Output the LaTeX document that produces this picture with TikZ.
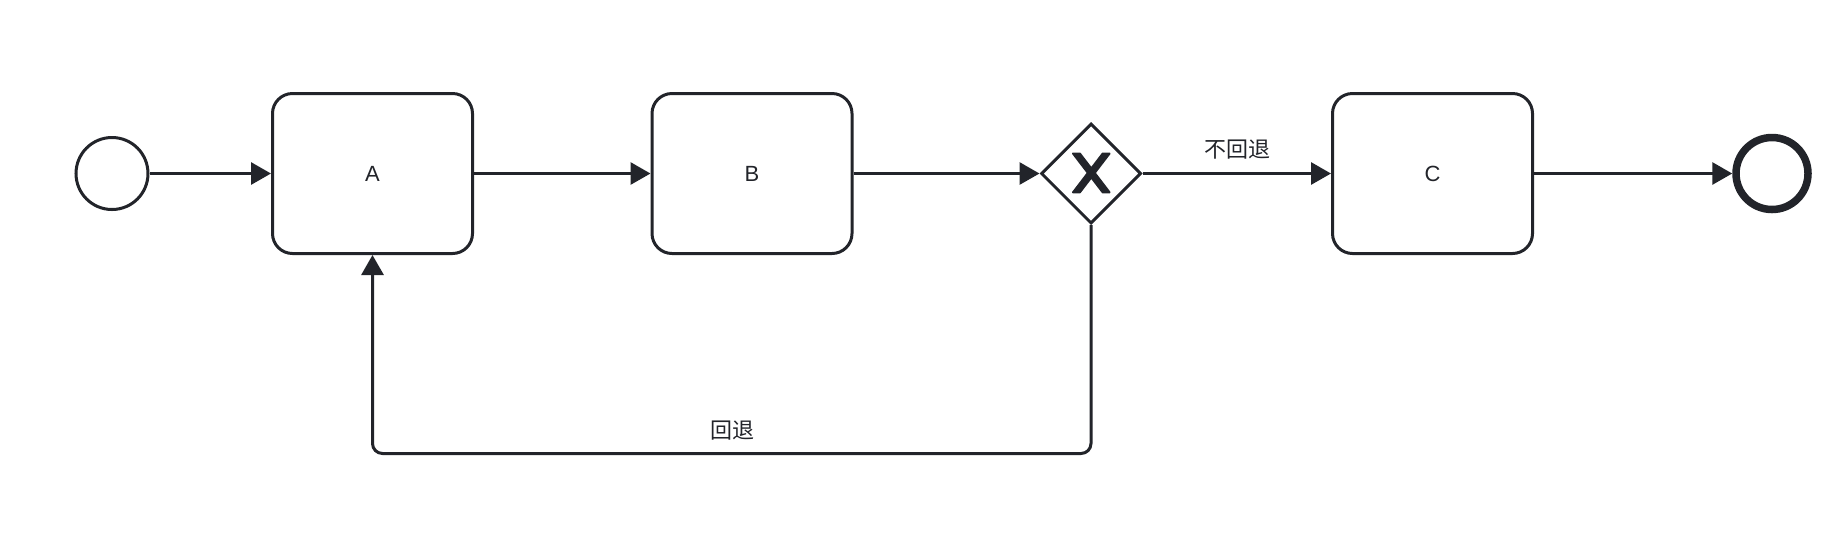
\documentclass[tikz,border=0pt]{standalone}
\usepackage{fontspec}
\setmainfont{Liberation Sans}
\newfontfamily\cjk{Noto Sans CJK SC}
\usetikzlibrary{arrows.meta,shapes.geometric}
\definecolor{ink}{RGB}{34,36,42}
\tikzset{
  x=0.5pt,y=-0.5pt,
  task/.style={draw=ink,line width=1.5pt,rounded corners=10pt,minimum width=100pt,minimum height=80pt,inner sep=0pt,font=\fontsize{11pt}{13pt}\selectfont,text=ink},
  startev/.style={circle,draw=ink,line width=1.5pt,minimum size=36pt,inner sep=0pt},
  endev/.style={circle,draw=ink,line width=3.75pt,minimum size=36pt,inner sep=0pt},
  gate/.style={diamond,draw=ink,line width=1.5pt,minimum width=50pt,minimum height=50pt,inner sep=0pt},
  flow/.style={draw=ink,line width=1.5pt,-{Triangle[length=10pt,width=11pt]}},
  lbl/.style={font=\cjk\fontsize{11pt}{13pt}\selectfont,text=ink,inner sep=0pt}
}
\begin{document}
\begin{tikzpicture}
\useasboundingbox (0,0) rectangle (1846,548);
\node[startev] (s) at (112,173.5) {};
\node[task] (a) at (372.5,173.5) {A};
\node[task] (b) at (752,173.5) {B};
\node[gate] (g) at (1091,173.5) {};
\node[task] (c) at (1432.5,173.5) {C};
\node[endev] (e) at (1772,173.5) {};
\begin{scope}[shift={(g.center)}]
\filldraw[ink,line width=1pt,line join=round]
 (-18,-20) -- (-3.14,-0.57) -- (-18,18.86) -- (-11.14,18.86) -- (0.29,3.93) -- (11.71,18.86) -- (18.57,18.86) -- (3.71,-0.57) -- (18.57,-20) -- (11.71,-20) -- (0.29,-5.07) -- (-11.14,-20) -- cycle;
\end{scope}
\coordinate (l1) at (1091,453.5);
\coordinate (l2) at (372.5,453.5);
\draw[flow] (s) -- (a);
\draw[flow] (a) -- (b);
\draw[flow] (b) -- (g);
\draw[flow] (g) -- (c);
\draw[flow] (c) -- (e);
\draw[flow,rounded corners=5pt] (g.south) -- (l1) -- (l2) -- (a.south);
\node[lbl] (t1) at (1237,150) {不回退};
\node[lbl] (t2) at (732.5,430.5) {回退};
\end{tikzpicture}
\end{document}
